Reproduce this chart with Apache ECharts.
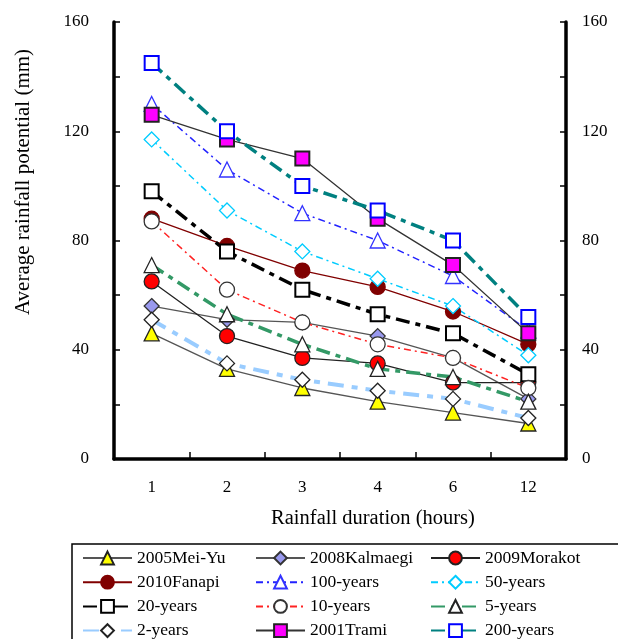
<!DOCTYPE html>
<html><head><meta charset="utf-8">
<script src="https://cdn.jsdelivr.net/npm/echarts@6/dist/echarts.min.js"></script>
<style>html,body{margin:0;padding:0;background:#fff}#c{width:618px;height:639px}</style>
</head><body><div id="c"></div>
<script>
const categories = ['1','2','3','4','6','12'];
const meiYu2005 = [46,33,26,21,17,13];
const kalmaegi2008 = [56,51,50,45,37,22];
const morakot2009 = [65,45,37,35,28,28];
const fanapi2010 = [88,78,69,63,54,42];
const years100 = [130,106,90,80,67,47];
const years50 = [117,91,76,66,56,38];
const years20 = [98,76,62,53,46,31];
const years10 = [87,62,50,42,37,26];
const years5 = [71,53,42,33,30,21];
const years2 = [51,35,29,25,22,15];
const trami2001 = [126,117,110,88,71,46];
const years200 = [145,120,100,91,80,52];
const yLabelValues = [0,40,80,120,160];

const FF = '"Liberation Serif","Times New Roman",serif';
const DD = [7,4,2,4];
const LD = [14,6,5,6];
const LD2 = [16,8,6,8];

function s(name, data, color, width, type, symbol, size, fill, border) {
  return {
    name, type: 'line', data, symbol, symbolSize: size,
    lineStyle: {color, width, type},
    itemStyle: {color: fill, borderColor: border, borderWidth: 1.3},
    emphasis: {disabled: true}
  };
}

const series = [
  s('2005Mei-Yu', meiYu2005, '#555555', 1.3, 'solid', 'triangle', 15, '#ffff00', '#222'),
  s('2008Kalmaegi', kalmaegi2008, '#555555', 1.3, 'solid', 'diamond', 15, '#9999ee', '#333'),
  s('2009Morakot', morakot2009, '#222222', 1.3, 'solid', 'circle', 15, '#ff0000', '#222'),
  s('2010Fanapi', fanapi2010, '#800000', 1.3, 'solid', 'circle', 15, '#800000', '#800000'),
  s('100-years', years100, '#2222ff', 1.5, DD, 'triangle', 15, '#ffffff', '#3333ff'),
  s('50-years', years50, '#00ccff', 1.5, DD, 'diamond', 15, '#ffffff', '#00ccff'),
  s('20-years', years20, '#000000', 3.5, LD, 'rect', 14, '#ffffff', '#000'),
  s('10-years', years10, '#ff2222', 1.5, DD, 'circle', 15, '#ffffff', '#333'),
  s('5-years', years5, '#339966', 3.5, LD, 'triangle', 15, '#ffffff', '#222'),
  s('2-years', years2, '#99ccff', 4, LD2, 'diamond', 15, '#ffffff', '#222'),
  s('2001Trami', trami2001, '#333333', 1.3, 'solid', 'rect', 14, '#ff00ff', '#222'),
  s('200-years', years200, '#008080', 3.5, LD, 'rect', 14, '#ffffff', '#0000ff')
];
series[10].itemStyle.borderWidth = 2;
series[11].itemStyle.borderWidth = 2;
series[6].itemStyle.borderWidth = 2;

const yAxisBase = (pos) => ({
  type: 'value', position: pos, min: 0, max: 160, interval: 20,
  axisLine: {show: true, lineStyle: {color: '#000', width: 3.5}},
  axisTick: {show: true, inside: true, length: 6, lineStyle: {color: '#000', width: 1.5}},
  splitLine: {show: false},
  axisLabel: {
    margin: 25, fontFamily: FF, fontSize: 17, color: '#000',
    formatter: v => yLabelValues.indexOf(v) >= 0 ? String(v) : ''
  }
});
const yR = yAxisBase('right'); yR.axisLabel.margin = 16;

const legendBase = (left, data) => ({
  data, left, top: 549, height: 200, orient: 'vertical', itemWidth: 49, itemHeight: 16, itemGap: 6.2,
  padding: 0, selectedMode: false,
  textStyle: {fontFamily: FF, fontSize: 17.5, color: '#000'}
});

const chart = echarts.init(document.getElementById('c'));
chart.setOption({
  animation: false,
  backgroundColor: '#fff',
  grid: {left: 114, right: 52, top: 22, bottom: 180},
  xAxis: {
    type: 'category', data: categories, boundaryGap: true,
    axisLine: {lineStyle: {color: '#000', width: 3.5}},
    axisTick: {show: true, inside: true, length: 7, interval: 0, lineStyle: {color: '#000', width: 1.5}},
    axisLabel: {margin: 20, fontFamily: FF, fontSize: 17, color: '#000'}
  },
  yAxis: [yAxisBase('left'), yR],
  legend: [
    legendBase(82, ['2005Mei-Yu','2010Fanapi','20-years','2-years']),
    legendBase(255, ['2008Kalmaegi','100-years','10-years','2001Trami']),
    legendBase(430, ['2009Morakot','50-years','5-years','200-years'])
  ],
  graphic: [
    {type: 'rect', shape: {x: 72, y: 544, width: 580, height: 120}, style: {fill: 'none', stroke: '#000', lineWidth: 1.5}, silent: true},
    {type: 'text', x: 373, y: 519, style: {text: 'Rainfall duration (hours)', font: '20.5px ' + FF, fill: '#000', textAlign: 'center', textVerticalAlign: 'middle'}},
    {type: 'text', x: 23, y: 182, rotation: Math.PI/2, style: {text: 'Average rainfall potential (mm)', font: '21px ' + FF, fill: '#000', textAlign: 'center', textVerticalAlign: 'middle'}}
  ],
  series
});
</script></body></html>
